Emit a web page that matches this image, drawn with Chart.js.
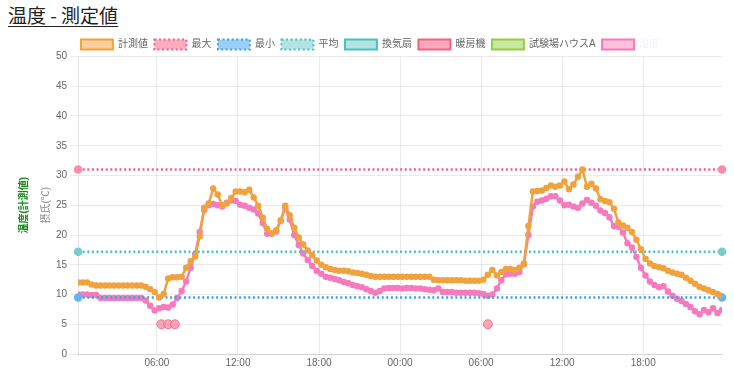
<!DOCTYPE html>
<html><head><meta charset="utf-8">
<script src="https://cdn.jsdelivr.net/npm/chart.js@4/dist/chart.umd.min.js"></script>
<style>
html,body{margin:0;padding:0;background:#fff;width:734px;height:374px;overflow:hidden;}
#ttl{position:absolute;left:8px;top:3px;font-family:'Noto Sans CJK JP',sans-serif;font-size:19px;color:#222;text-decoration:underline;text-underline-offset:3px;line-height:24px;}
#wrap{position:absolute;left:0;top:0;width:734px;height:374px;}
</style></head>
<body>
<div id="ttl">温度 - 測定値</div>
<div id="wrap"><canvas id="c" width="734" height="374"></canvas></div>
<script>
// time axis: hours from day-1 00:00, one sample every 20 minutes starting 00:10
const startHour = 10/60;
const stepHour = 20/60;
const measured = [12.0,12.0,12.0,11.7,11.5,11.5,11.5,11.5,11.5,11.5,11.5,11.5,11.5,11.5,11.5,11.3,10.9,10.4,9.5,10.1,
12.7,12.9,12.9,13.0,14.5,15.6,16.4,19.8,24.6,25.3,27.8,26.8,25.0,25.3,26.2,27.3,27.3,27.2,27.6,26.3,
24.9,22.9,21.0,20.3,20.8,22.5,24.9,23.3,21.2,19.6,18.4,17.4,16.6,15.7,15.0,14.6,14.3,14.1,14.0,14.0,
13.9,13.7,13.6,13.5,13.3,13.1,13.0,13.0,13.0,13.0,13.0,13.0,13.0,13.0,13.0,13.0,13.0,13.0,13.0,12.5,
12.4,12.4,12.4,12.4,12.4,12.4,12.3,12.3,12.3,12.3,12.5,13.3,14.1,13.2,13.8,14.3,14.3,14.1,14.5,15.2,
21.5,27.3,27.4,27.5,27.9,28.3,28.1,28.3,29.0,27.7,28.5,29.8,31.0,28.1,28.6,27.8,26.0,25.7,25.5,24.4,
22.1,21.6,21.2,20.5,19.2,17.6,16.0,15.2,14.8,14.6,14.4,14.0,13.7,13.5,13.3,12.8,12.3,11.8,11.3,11.0,
10.7,10.4,10.1,9.8];
const other = [10.0,10.0,10.0,9.9,9.9,9.4,9.4,9.4,9.4,9.4,9.4,9.4,9.4,9.4,9.4,9.0,8.1,7.3,7.7,7.9,
7.8,8.3,9.4,10.6,12.2,14.5,16.8,20.5,24.2,25.0,25.2,25.0,24.8,25.4,25.8,25.7,25.1,24.9,24.6,24.3,
23.6,22.0,20.2,20.2,20.6,22.4,24.6,22.6,20.0,18.3,16.9,15.8,14.8,14.0,13.5,13.0,12.8,12.6,12.4,12.1,
11.9,11.6,11.4,11.2,10.9,10.6,10.3,10.6,11.0,11.1,11.1,11.1,11.0,11.1,11.1,11.0,11.0,10.9,10.8,10.7,
11.0,10.4,10.4,10.4,10.3,10.3,10.3,10.3,10.3,10.2,10.1,9.8,10.0,11.0,12.4,13.4,13.5,13.5,13.8,15.1,
20.0,24.8,25.6,25.8,26.1,26.5,26.5,25.8,25.0,25.1,24.8,24.6,25.3,25.9,25.4,24.9,24.1,23.7,23.0,21.5,
21.4,20.4,18.6,17.9,16.3,14.5,13.2,12.2,11.6,11.2,11.4,10.5,9.8,9.3,8.9,8.4,7.9,7.2,6.7,7.4,
7.0,7.7,6.9,7.4];
const maxValue = 31.0;
const minValue = 9.5;
const meanValue = 17.2;
const heaterTimes = [6.33, 6.83, 7.33, 30.5];
const heaterValues = [5, 5, 5, 5];
const xTicks = [6, 12, 18, 24, 30, 36, 42];
const yTicks = [0,5,10,15,20,25,30,35,40,45,50];
const labels = ['計測値','最大','最小','平均','換気扇','暖房機','試験場ハウスA','湿度'];

const times = measured.map((_, i) => startHour + i * stepHour);
const tEnd = times[times.length - 1];
const pts = (arr) => arr.map((v, i) => ({x: times[i], y: v}));
const flat = (v) => [{x: startHour, y: v}, {x: tEnd, y: v}];

const FONT = "'Liberation Sans','Noto Sans CJK JP',sans-serif";
const ORANGE = 'rgb(240,162,62)', PINK = 'rgb(246,122,190)';
const RED = 'rgb(240,96,140)', BLUE = 'rgb(54,162,235)', TEAL = 'rgb(75,192,192)';
const dash = [2, 2.6];

const legendGap = {
  id: 'legendGap',
  beforeInit(chart) {
    const lg = chart.legend;
    const fit = lg.fit;
    lg.fit = function () { fit.call(this); this.height -= 3; };
  }
};

new Chart(document.getElementById('c'), {
  type: 'line',
  plugins: [legendGap],
  data: {
    datasets: [
      {label: labels[0], data: pts(measured), borderColor: ORANGE, backgroundColor: 'rgba(255,190,120,0.75)', pointBackgroundColor: ORANGE, pointBorderColor: ORANGE, borderWidth: 2.5, pointRadius: 2, tension: 0},
      {label: labels[1], data: flat(maxValue), clip: false, borderColor: RED, backgroundColor: 'rgba(255,150,175,0.8)', pointBackgroundColor: 'rgba(250,140,170,1)', pointBorderColor: 'rgba(250,140,170,1)', borderDash: dash, borderWidth: 2.5, pointRadius: 3},
      {label: labels[2], data: flat(minValue), clip: false, borderColor: BLUE, backgroundColor: 'rgba(130,195,245,0.8)', pointBackgroundColor: 'rgba(100,180,240,1)', pointBorderColor: 'rgba(100,180,240,1)', borderDash: dash, borderWidth: 2.5, pointRadius: 3},
      {label: labels[3], data: flat(meanValue), clip: false, borderColor: TEAL, backgroundColor: 'rgba(160,220,220,0.8)', pointBackgroundColor: 'rgba(120,205,205,1)', pointBorderColor: 'rgba(120,205,205,1)', borderDash: dash, borderWidth: 2.5, pointRadius: 3},
      {label: labels[4], data: [], borderColor: TEAL, backgroundColor: 'rgba(160,220,220,0.8)', borderWidth: 2},
      {label: labels[5], data: heaterTimes.map((t, i) => ({x: t, y: heaterValues[i]})), showLine: false, borderColor: 'rgb(240,100,130)', backgroundColor: 'rgba(250,160,180,0.9)', pointBackgroundColor: 'rgba(250,150,170,0.85)', pointBorderColor: 'rgba(240,110,140,0.9)', pointBorderWidth: 1, borderWidth: 2, pointRadius: 4.5},
      {label: labels[6], data: [], borderColor: 'rgb(150,205,70)', backgroundColor: 'rgba(195,230,150,0.9)', borderWidth: 2},
      {label: labels[7], data: pts(other), borderColor: PINK, backgroundColor: 'rgba(255,185,215,0.9)', pointBackgroundColor: PINK, pointBorderColor: PINK, borderWidth: 2.5, pointRadius: 2, tension: 0}
    ]
  },
  options: {
    responsive: false,
    animation: false,
    layout: {padding: {top: 33, right: 12, left: 18, bottom: 2}},
    plugins: {
      tooltip: {enabled: false},
      legend: {
        labels: {
          font: {family: FONT, size: 10},
          color: '#666',
          boxWidth: 32,
          boxHeight: 10,
          padding: 6.5,
          generateLabels: (chart) => {
            const items = Chart.defaults.plugins.legend.labels.generateLabels(chart);
            items.forEach((it, i) => {
              it.lineWidth = 2;
              if (i === 7) it.fontColor = '#f2f4fa';
            });
            return items;
          }
        }
      }
    },
    scales: {
      x: {
        type: 'linear',
        min: startHour,
        max: tEnd,
        afterBuildTicks: (axis) => { axis.ticks = xTicks.map(v => ({value: v})); },
        ticks: {
          font: {family: FONT, size: 10}, color: '#666', maxRotation: 0, padding: 3,
          callback: (v) => String(v % 24).padStart(2, '0') + ':00'
        },
        grid: {color: 'rgba(0,0,0,0.08)', drawTicks: false}
      },
      y: {
        min: 0, max: 50, weight: 0,
        afterBuildTicks: (axis) => { axis.ticks = yTicks.map(v => ({value: v})); },
        ticks: {font: {family: FONT, size: 10}, color: '#666'},
        grid: {color: 'rgba(0,0,0,0.08)'},
        title: {display: true, text: '摂氏(℃)', color: '#888', font: {family: FONT, size: 10}, padding: {top: 0, bottom: 1}}
      },
      y2: {
        position: 'left', min: 0, max: 50, weight: 1,
        ticks: {display: false},
        grid: {display: false, drawTicks: false},
        border: {display: false},
        title: {display: true, text: '温度(計測値)', color: '#1a8a1a', font: {family: FONT, size: 10, weight: 'bold'}, padding: {top: 0, bottom: 10}}
      }
    }
  }
});
</script>
</body></html>
